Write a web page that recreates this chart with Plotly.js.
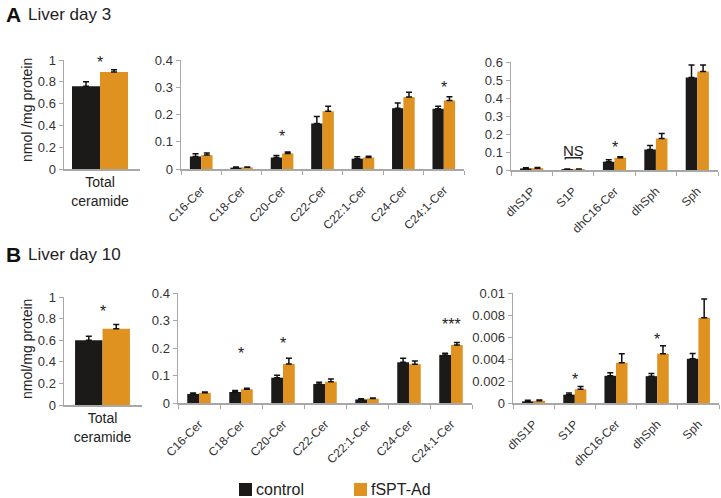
<!DOCTYPE html>
<html>
<head>
<meta charset="utf-8">
<script src="https://cdn.plot.ly/plotly-3.0.1.min.js"></script>
<style>html,body{margin:0;padding:0;background:#fff}#chart{width:721px;height:498px}</style>
</head>
<body>
<div id="chart"></div>
<script>
// ---------- data ----------
const seriesNames = ["control", "fSPT-Ad"];
const totalCat = ["Total<br>ceramide"];
const cerCats = ["C16-Cer", "C18-Cer", "C20-Cer", "C22-Cer", "C22:1-Cer", "C24-Cer", "C24:1-Cer"];
const sphCats = ["dhS1P", "S1P", "dhC16-Cer", "dhSph", "Sph"];

// Liver day 3
const d3TotalCtrl = [0.76], d3TotalCtrlErr = [0.04];
const d3TotalFspt = [0.89], d3TotalFsptErr = [0.02];
const d3CerCtrl = [0.046, 0.005, 0.042, 0.167, 0.038, 0.223, 0.221];
const d3CerCtrlErr = [0.010, 0.002, 0.008, 0.026, 0.007, 0.019, 0.009];
const d3CerFspt = [0.051, 0.006, 0.057, 0.212, 0.042, 0.264, 0.251];
const d3CerFsptErr = [0.008, 0.001, 0.005, 0.018, 0.005, 0.018, 0.014];
const d3SphCtrl = [0.009, 0.005, 0.046, 0.114, 0.514];
const d3SphCtrlErr = [0.003, 0.001, 0.011, 0.022, 0.070];
const d3SphFspt = [0.010, 0.005, 0.068, 0.175, 0.547];
const d3SphFsptErr = [0.004, 0.001, 0.006, 0.028, 0.037];

// Liver day 10
const d10TotalCtrl = [0.60], d10TotalCtrlErr = [0.036];
const d10TotalFspt = [0.706], d10TotalFsptErr = [0.039];
const d10CerCtrl = [0.033, 0.040, 0.092, 0.069, 0.013, 0.148, 0.175];
const d10CerCtrlErr = [0.003, 0.005, 0.009, 0.006, 0.002, 0.015, 0.006];
const d10CerFspt = [0.037, 0.050, 0.142, 0.077, 0.016, 0.141, 0.211];
const d10CerFsptErr = [0.003, 0.004, 0.021, 0.010, 0.002, 0.012, 0.009];
const d10SphCtrl = [0.00015, 0.00076, 0.00247, 0.00244, 0.00402];
const d10SphCtrlErr = [0.00009, 0.00015, 0.00027, 0.00024, 0.00049];
const d10SphFspt = [0.00020, 0.00125, 0.00366, 0.00448, 0.00774];
const d10SphFsptErr = [0.00007, 0.00025, 0.00082, 0.00073, 0.00171];

// ---------- layout helpers ----------
const W = 721, H = 498;
const px = x => x / W;
const py = y => 1 - y / H;
const CTRL = "#1b1a18", FSPT = "#df921f";
const FONT = "Liberation Sans, Arial, sans-serif";

const traces = [];
function addPair(idx, cats, c, ce, f, fe) {
  const ax = idx === 1 ? "" : String(idx);
  const mk = (name, y, e, col) => ({
    type: "bar", name: name, x: cats, y: y,
    xaxis: "x" + ax, yaxis: "y" + ax, showlegend: false,
    marker: {color: col, line: {width: 0}},
    error_y: {type: "data", symmetric: false, array: e, arrayminus: e.map(() => 0),
              color: "#111", thickness: 1.5, width: 3},
    hoverinfo: "x+y"
  });
  traces.push(mk(seriesNames[0], c, ce, CTRL));
  traces.push(mk(seriesNames[1], f, fe, FSPT));
}
addPair(1, totalCat, d3TotalCtrl, d3TotalCtrlErr, d3TotalFspt, d3TotalFsptErr);
addPair(2, cerCats, d3CerCtrl, d3CerCtrlErr, d3CerFspt, d3CerFsptErr);
addPair(3, sphCats, d3SphCtrl, d3SphCtrlErr, d3SphFspt, d3SphFsptErr);
addPair(4, totalCat, d10TotalCtrl, d10TotalCtrlErr, d10TotalFspt, d10TotalFsptErr);
addPair(5, cerCats, d10CerCtrl, d10CerCtrlErr, d10CerFspt, d10CerFsptErr);
addPair(6, sphCats, d10SphCtrl, d10SphCtrlErr, d10SphFspt, d10SphFsptErr);

const baseX = {
  type: "category", showline: true, linecolor: "#a8a8a8", linewidth: 1.5,
  showgrid: false, zeroline: false, ticks: "outside", ticklen: 4, tickcolor: "#a8a8a8",
  tickson: "boundaries", tickangle: -45, ticklabelstandoff: 8,
  tickfont: {size: 12, color: "#333", family: FONT},
  fixedrange: true
};
const baseY = {
  showline: true, linecolor: "#a8a8a8", linewidth: 1.5, showgrid: false, zeroline: false,
  ticks: "outside", ticklen: 4, tickcolor: "#a8a8a8",
  tickfont: {size: 13, color: "#333", family: FONT}, fixedrange: true
};
function xa(x0, x1, extra) { return Object.assign({}, baseX, {domain: [px(x0), px(x1)]}, extra || {}); }
function ya(y0, y1, anchor, range, dtick, extra) {
  return Object.assign({}, baseY, {domain: [py(y1), py(y0)], anchor: anchor, range: range, dtick: dtick}, extra || {});
}
const totalX = {ticks: "", tickangle: 0, ticklabelstandoff: 0, tickfont: {size: 14, color: "#222", family: FONT}};

const layout = {
  width: W, height: H, margin: {l: 0, r: 0, t: 0, b: 0},
  paper_bgcolor: "#fff", plot_bgcolor: "#fff",
  font: {family: FONT, color: "#222"},
  barmode: "group", bargap: 0.44, bargroupgap: 0,
  showlegend: false,
  xaxis:  xa(64, 140, Object.assign({anchor: "y", range: [-0.36, 0.40]}, totalX)),
  yaxis:  ya(60, 169, "x", [0, 1], 0.2),
  xaxis2: xa(181, 464, {anchor: "y2"}),
  yaxis2: ya(60, 169, "x2", [0, 0.4], 0.1),
  xaxis3: xa(511, 718, {anchor: "y3"}),
  yaxis3: ya(62, 170, "x3", [0, 0.6], 0.1),
  xaxis4: xa(64, 142, Object.assign({anchor: "y4", range: [-0.393, 0.403]}, totalX)),
  yaxis4: ya(297, 405, "x4", [0, 1], 0.2),
  xaxis5: xa(178, 472, {anchor: "y5"}),
  yaxis5: ya(293, 403, "x5", [0, 0.4], 0.1),
  xaxis6: xa(513, 719, {anchor: "y6"}),
  yaxis6: ya(293, 403, "x6", [0, 0.01], 0.002, {tickformat: ".3~f"}),
  annotations: [],
  shapes: []
};

const ann = layout.annotations;
// panel titles
function panelTitle(letter, text, yPix) {
  ann.push({xref: "paper", yref: "paper", x: px(4), y: py(yPix), xanchor: "left", yanchor: "middle",
            text: "<b>" + letter + "</b>", showarrow: false, font: {size: 21, color: "#111", family: FONT}});
  ann.push({xref: "paper", yref: "paper", x: px(26), y: py(yPix), xanchor: "left", yanchor: "middle",
            text: text, showarrow: false, font: {size: 17, color: "#222", family: FONT}});
}
panelTitle("A", "Liver day 3", 14);
panelTitle("B", "Liver day 10", 254);
// y-axis titles
function yTitle(text, yPix) {
  ann.push({xref: "paper", yref: "paper", x: px(27), y: py(yPix), xanchor: "center", yanchor: "middle",
            text: text, textangle: -90, showarrow: false, font: {size: 14, color: "#222", family: FONT}});
}
yTitle("nmol /mg protein", 110);
yTitle("nmol/mg protein", 349);

// significance marks
function sig(ax, xcat, yv, txt, shift) {
  ann.push({xref: "x" + ax, yref: "y" + ax, x: xcat, y: yv, text: txt, showarrow: false,
            xanchor: "center", yanchor: "middle", yshift: shift === undefined ? -5 : shift,
            font: {size: 16, color: "#222", family: FONT}});
}
sig("", totalCat[0], 0.98, "*", 0);
sig("2", cerCats[2], 0.138, "*");
sig("2", cerCats[6], 0.316, "*");
sig("3", sphCats[2], 0.154, "*");
ann.push({xref: "x3", yref: "y3", x: sphCats[1], y: 0.11, text: "NS", showarrow: false,
          xanchor: "center", yanchor: "middle", font: {size: 15, color: "#222", family: FONT}});
layout.shapes.push({type: "path", xref: "x3", yref: "y3",
  path: "M 0.81,0.058 L 0.81,0.068 L 1.19,0.068 L 1.19,0.058", line: {color: "#222", width: 1.3}});
sig("4", totalCat[0], 0.91, "*");
sig("5", cerCats[1], 0.20, "*");
sig("5", cerCats[2], 0.233, "*");
sig("5", cerCats[6], 0.302, "***");
sig("6", sphCats[1], 0.00255, "*");
sig("6", sphCats[3], 0.0062, "*");

// legend (drawn)
const legendItems = [{name: seriesNames[0], color: CTRL, x: 239}, {name: seriesNames[1], color: FSPT, x: 354}];
legendItems.forEach(it => {
  layout.shapes.push({type: "rect", xref: "paper", yref: "paper", x0: px(it.x), x1: px(it.x + 13),
    y0: py(496), y1: py(483), fillcolor: it.color, line: {width: 0}});
  ann.push({xref: "paper", yref: "paper", x: px(it.x + 15), y: py(489.5), xanchor: "left", yanchor: "middle",
    text: it.name, showarrow: false, font: {size: 16, color: "#222", family: FONT}});
});

Plotly.newPlot("chart", traces, layout, {staticPlot: true, displayModeBar: false});
</script>
</body>
</html>
